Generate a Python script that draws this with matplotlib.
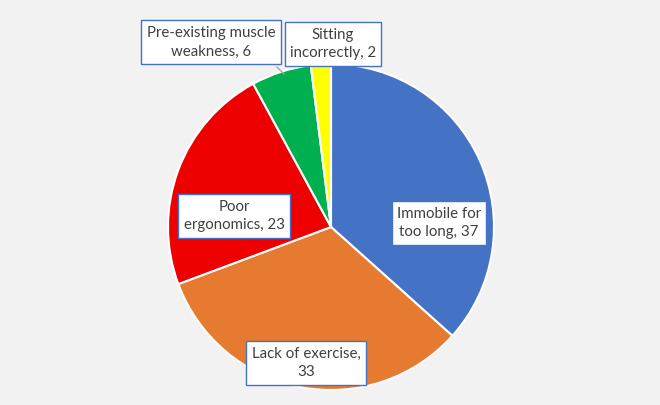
import matplotlib.pyplot as plt

# data
labels = ['Immobile for\ntoo long', 'Lack of exercise,\n', 'Poor\nergonomics', 'Pre-existing muscle\nweakness', 'Sitting\nincorrectly']
values = [37, 33, 23, 6, 2]
colors = ['#4472C4', '#E57A30', '#EE0000', '#00B050', '#FFFF00']

# label box centres in pixel coords (x, y from top)
label_pos = [(439, 223), (306, 363), (234, 216), (211, 42), (333, 44)]

W, H = 660, 405
fig = plt.figure(figsize=(6.6, 4.05), dpi=100)
fig.patch.set_facecolor('#F2F2F2')
ax = fig.add_axes([0, 0, 1, 1])
ax.set_facecolor('#F2F2F2')

cx, cy, r = 331, H - 227, 163
ax.pie(values, colors=colors, startangle=90, counterclock=False,
       center=(cx, cy), radius=r,
       wedgeprops=dict(edgecolor='white', linewidth=1.5))

ax.set_xlim(0, W)
ax.set_ylim(0, H)
ax.set_aspect('equal')
ax.axis('off')

# leader line for the small green slice
ax.plot([277, 284], [H - 67, H - 74], color='#A6A6A6', lw=1)

for lab, v, (px, py) in zip(labels, values, label_pos):
    if lab.endswith('\n'):
        txt = lab + str(v)
    else:
        txt = lab + ', ' + str(v)
    ax.text(px, H - py, txt, ha='center', va='center', fontsize=10.8,
            family='Lato', color='#404040', linespacing=1.45,
            bbox=dict(boxstyle='square,pad=0.35', facecolor='white',
                      edgecolor='#4472C4', linewidth=1))

fig.savefig('out.png', dpi=100, facecolor=fig.get_facecolor())
